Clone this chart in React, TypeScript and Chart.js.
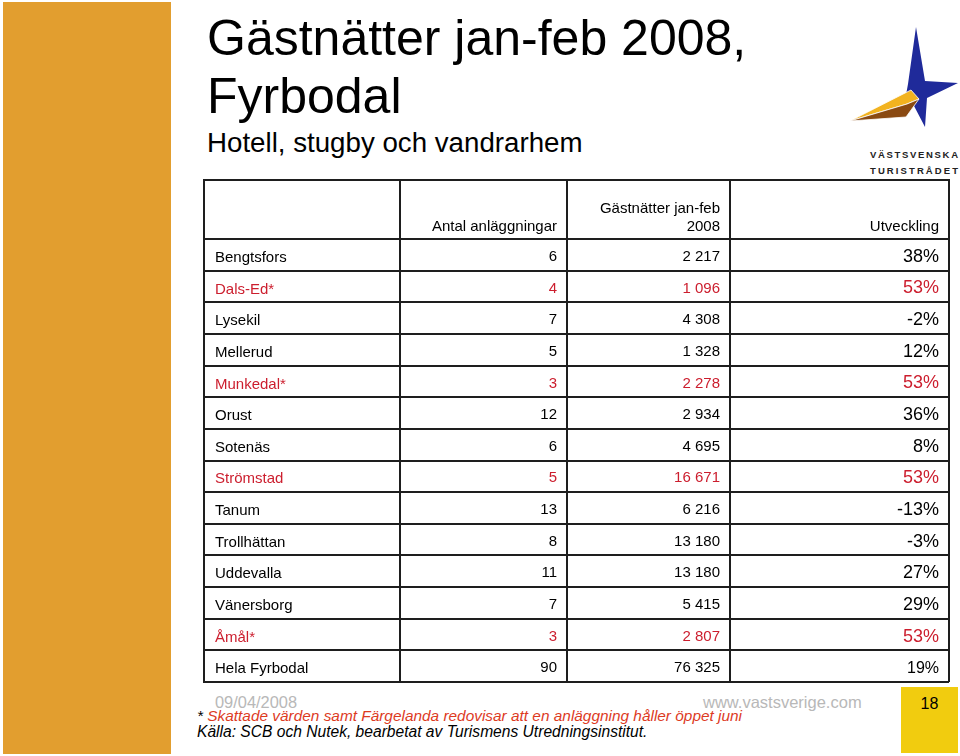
import React, { useEffect, useRef } from 'react';
import { Chart, registerables } from 'chart.js';

Chart.register(...registerables);

// ---- data ----
const municipalities = [
  'Bengtsfors', 'Dals-Ed*', 'Lysekil', 'Mellerud', 'Munkedal*', 'Orust', 'Sotenäs',
  'Strömstad', 'Tanum', 'Trollhättan', 'Uddevalla', 'Vänersborg', 'Åmål*', 'Hela Fyrbodal',
];
const anlaggningar = [6, 4, 7, 5, 3, 12, 6, 5, 13, 8, 11, 7, 3, 90];
const gastnatter = [2217, 1096, 4308, 1328, 2278, 2934, 4695, 16671, 6216, 13180, 13180, 5415, 2807, 76325];
const utveckling = [38, 53, -2, 12, 53, 36, 8, 53, -13, -3, 27, 29, 53, 19];
const redRows = ['Dals-Ed*', 'Munkedal*', 'Strömstad', 'Åmål*'];
const columnHeaders = [['Antal anläggningar'], ['Gästnätter jan-feb', '2008'], ['Utveckling']];

// ---- layout / style ----
const colEdges = [0, 196, 363, 526, 745];
const FONT = '"Liberation Sans", Arial, Helvetica, sans-serif';
const LINE = '#1e1e1e';
const RED = '#cc1e2e';

const fmtThousands = (v: number) => String(v).replace(/\B(?=(\d{3})+(?!\d))/g, ' ');
const formatters = [
  (v: number) => String(v),
  (v: number) => fmtThousands(v),
  (v: number) => `${v}%`,
];

const tablePlugin = {
  id: 'tableCells',
  afterDraw(chart: any) {
    const { ctx } = chart;
    const xs = chart.scales.x;
    const ys = chart.scales.y;
    ctx.save();
    // outer top border of header
    ctx.strokeStyle = LINE;
    ctx.lineWidth = 2;
    ctx.beginPath();
    ctx.moveTo(xs.getPixelForValue(colEdges[0]) - 1, xs.top);
    ctx.lineTo(xs.getPixelForValue(colEdges[colEdges.length - 1]) + 1, xs.top);
    ctx.stroke();

    // header texts
    ctx.fillStyle = '#000';
    ctx.textAlign = 'right';
    ctx.textBaseline = 'alphabetic';
    ctx.font = `15px ${FONT}`;
    columnHeaders.forEach((lines, ci) => {
      const right = xs.getPixelForValue(colEdges[ci + 2]) - 10;
      lines.forEach((t, li) => {
        const baseline = xs.bottom - 8 - (lines.length - 1 - li) * 18;
        ctx.fillText(t, right, baseline);
      });
    });

    // body cells
    ctx.textBaseline = 'middle';
    chart.data.datasets.forEach((ds: any, di: number) => {
      const right = xs.getPixelForValue(colEdges[di + 2]) - 10;
      ds.data.forEach((v: number, i: number) => {
        const py = ys.getPixelForValue(i) + 2;
        const isTotal = i === municipalities.length - 1;
        const size = di === 2 ? (isTotal ? 16 : 18) : 15;
        ctx.font = `${size}px ${FONT}`;
        ctx.fillStyle = redRows.includes(municipalities[i]) ? RED : '#000';
        ctx.fillText(formatters[di](v), right, py);
      });
    });
    ctx.restore();
  },
};

function TableChart() {
  const ref = useRef<HTMLCanvasElement | null>(null);
  useEffect(() => {
    if (!ref.current) return;
    const chart = new Chart(ref.current, {
      type: 'bar',
      data: {
        labels: municipalities,
        datasets: [
          { label: 'Antal anläggningar', data: anlaggningar, hidden: true },
          { label: 'Gästnätter jan-feb 2008', data: gastnatter, hidden: true },
          { label: 'Utveckling', data: utveckling, hidden: true },
        ],
      },
      options: {
        indexAxis: 'y',
        animation: false,
        responsive: false,
        events: [],
        layout: { padding: { left: 1, top: 1, right: 2, bottom: 2 } },
        plugins: { legend: { display: false }, tooltip: { enabled: false }, title: { display: false } },
        scales: {
          x: {
            type: 'linear',
            position: 'top',
            min: colEdges[0],
            max: colEdges[colEdges.length - 1],
            afterBuildTicks: (s: any) => {
              s.ticks = colEdges.map((v) => ({ value: v }));
            },
            afterFit: (s: any) => {
              s.height = 59;
              s.paddingLeft = 0;
              s.paddingRight = 0;
            },
            ticks: { display: false },
            grid: { color: LINE, lineWidth: 2, drawTicks: true, tickLength: 59, tickColor: LINE, tickWidth: 2 },
            border: { display: true, color: LINE, width: 2 },
          },
          y: {
            type: 'category',
            position: 'left',
            offset: true,
            afterFit: (s: any) => {
              s.width = 0;
              s.paddingTop = 0;
              s.paddingBottom = 0;
            },
            grid: { offset: true, color: LINE, lineWidth: 2, drawTicks: false },
            border: { display: true, color: LINE, width: 2 },
            ticks: {
              mirror: true,
              padding: 11,
              labelOffset: 3,
              autoSkip: false,
              font: { size: 15, family: FONT },
              color: (c: any) => (redRows.includes(municipalities[c.index]) ? RED : '#000'),
            },
          },
        },
      },
      plugins: [tablePlugin],
    } as any);
    return () => chart.destroy();
  }, []);
  return (
    <canvas
      ref={ref}
      width={748}
      height={505}
      style={{ position: 'absolute', left: 203, top: 179, width: 748, height: 505 }}
    />
  );
}

export default function App() {
  return (
    <div style={{ position: 'absolute', left: 0, top: 0, width: 960, height: 756, overflow: 'hidden', background: '#fff' }}>
      <svg width={960} height={756} style={{ position: 'absolute', left: 0, top: 0 }} fontFamily={FONT}>
        <rect x={3} y={2} width={168} height={752} fill="#E29E2F" />
        <text x={207} y={55} fontSize={50} fill="#000">Gästnätter jan-feb 2008,</text>
        <text x={207} y={113} fontSize={50} fill="#000">Fyrbodal</text>
        <text x={207} y={152} fontSize={27.7} fill="#000">Hotell, stugby och vandrarhem</text>

        {/* logo */}
        <polygon points="916,27 925,81 958,83 927,98 925,127 913,104 906,95 908,84" fill="#1F2A9A" />
        <polygon points="850,121 911,90 919,99 907,104" fill="#F2B320" stroke="#fff" strokeWidth={0.8} />
        <polygon points="850,121 907,104 919,99 906,117" fill="#8A4A12" stroke="#fff" strokeWidth={0.8} />
        <text x={870} y={158} fontSize={9.5} fontWeight="bold" fill="#222" textLength={88} lengthAdjust="spacing">VÄSTSVENSKA</text>
        <text x={870} y={174} fontSize={9.5} fontWeight="bold" fill="#222" textLength={88} lengthAdjust="spacing">TURISTRÅDET</text>

        {/* footer */}
        <text x={215} y={708} fontSize={16.4} fill="#b8b8b8">09/04/2008</text>
        <text x={703} y={708} fontSize={16.5} fill="#b8b8b8">www.vastsverige.com</text>
        <text x={197} y={721} fontSize={15.4} fontStyle="italic" fill="#000">
          *<tspan fill="#dd3b1f"> Skattade värden samt Färgelanda redovisar att en anläggning håller öppet juni</tspan>
        </text>
        <text x={197} y={737} fontSize={15.6} fontStyle="italic" fill="#000">Källa: SCB och Nutek, bearbetat av Turismens Utredningsinstitut.</text>

        <rect x={901} y={687} width={57} height={66} fill="#F1CC0F" />
        <text x={929.5} y={709} fontSize={16} textAnchor="middle" fill="#000">18</text>
      </svg>
      <TableChart />
    </div>
  );
}
